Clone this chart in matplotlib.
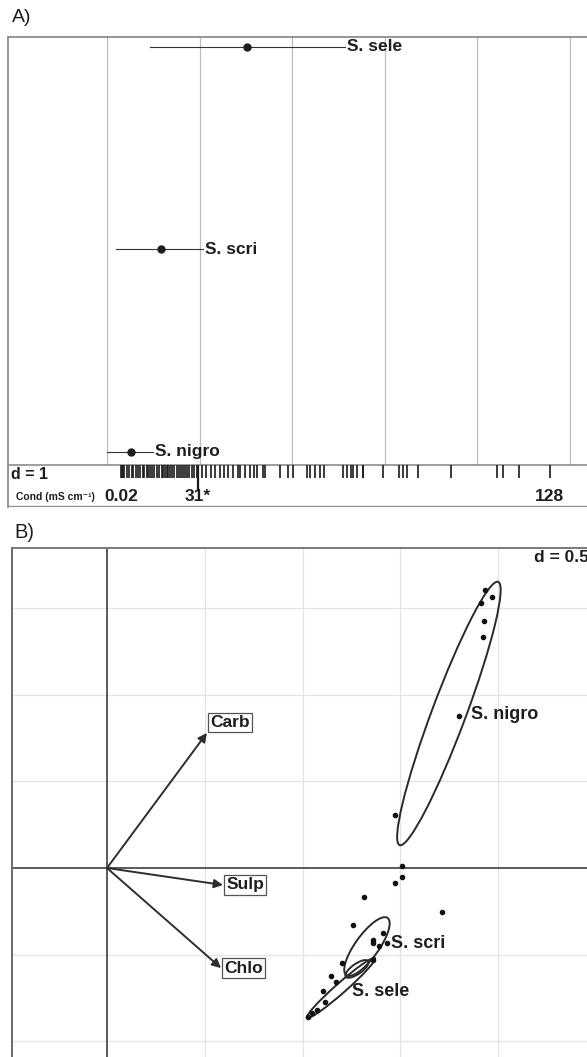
import numpy as np
import matplotlib.pyplot as plt
from matplotlib.patches import Ellipse

plt.rcParams['font.family'] = ['Liberation Sans', 'DejaVu Sans']

# Painel A - posicao das especies no gradiente de condutividade (unidades d)
especies = ['S. nigro', 'S. scri', 'S. sele']
media = [0.26, 0.58, 1.51]
inferior = [0.0, 0.10, 0.46]
superior = [0.50, 1.04, 2.57]

# valores de condutividade das amostras (escala padronizada)
rug = [0.15, 0.16, 0.17, 0.18, 0.22, 0.24, 0.27, 0.28, 0.31, 0.34, 0.36, 0.39,
       0.40, 0.43, 0.44, 0.46, 0.49, 0.51, 0.54, 0.56, 0.59, 0.61, 0.63, 0.65,
       0.66, 0.68, 0.70, 0.72, 0.76, 0.78, 0.80, 0.82, 0.84, 0.86, 0.89, 0.92,
       0.94, 0.97, 1.03, 1.07, 1.12, 1.17, 1.22, 1.26, 1.31, 1.36, 1.41,
       1.44, 1.49, 1.54, 1.59, 1.62, 1.69, 1.71, 1.87, 1.95, 2.01, 2.16, 2.19,
       2.25, 2.30, 2.34, 2.55, 2.59, 2.63, 2.66, 2.70, 2.76, 2.77, 2.98, 3.15,
       3.20, 3.24, 3.36, 3.71, 4.21, 4.28, 4.45, 4.78]
limiar = 0.98
cond_pos = [0.15, 0.98, 4.78]
cond_lab = ['0.02', '31*', '128']

# Painel B - amostras, variaveis e elipses das especies
amostra_x = [1.933, 1.968, 1.912, 1.927, 1.922, 1.800, 1.472,
             1.508, 1.508, 1.472, 1.314, 1.713, 1.258, 1.411, 1.360, 1.360,
             1.391, 1.431, 1.202, 1.360, 1.145, 1.171, 1.104, 1.115, 1.074,
             1.048, 1.028]
amostra_y = [1.603, 1.563, 1.528, 1.424, 1.332, 0.877, 0.306,
             0.012, -0.052, -0.087, -0.167, -0.254, -0.329, -0.375, -0.415, -0.433,
             -0.450, -0.433, -0.548, -0.531, -0.623, -0.657, -0.709, -0.773, -0.819,
             -0.836, -0.859]

variaveis = ['Carb', 'Sulp', 'Chlo']
var_x = [0.511, 0.593, 0.583]
var_y = [0.779, -0.098, -0.577]

ell_x = [1.748, 1.329, 1.196, 1.278]
ell_y = [0.891, -0.453, -0.692, -0.582]
ell_a = [0.800, 0.196, 0.245, 0.073]
ell_b = [0.088, 0.062, 0.028, 0.028]
ell_ang = [71.7, 58.1, 44.9, 39.4]

rot_b = ['S. nigro', 'S. scri', 'S. sele']
rot_x = [1.859, 1.452, 1.253]
rot_y = [0.887, -0.433, -0.715]

fig = plt.figure(figsize=(5.87, 10.57), dpi=100)
tinta = '#1e1e1e'

# ---------------- A ----------------
axA = fig.add_axes([0.01363, 0.52034, 0.9949, 0.44465])
axA.set_xlim(-1.069, 5.238)
axA.set_ylim(-0.2716, 2.049)
for s in ['right', 'bottom']:
    axA.spines[s].set_visible(False)
for s in ['left', 'top']:
    axA.spines[s].set_color('#8c8c8c')
    axA.spines[s].set_linewidth(1.3)
axA.axhline(-0.2716, color='#8c8c8c', lw=2.4)
axA.set_xticks([])
axA.set_yticks([])

axA.vlines(np.arange(0, 6), -0.0642, 2.049, color='#bdbdbd', lw=0.9)
axA.axhline(-0.0642, color='#8c8c8c', lw=1.2)

for i in range(len(especies)):
    axA.plot([inferior[i], superior[i]], [i, i], color='#333333', lw=0.8)
    axA.plot(media[i], i, 'o', color=tinta, ms=5)
    axA.text(superior[i] + 0.02, i, especies[i], ha='left', va='center',
             fontsize=12.5, fontweight='bold', color=tinta)

axA.vlines(rug, -0.128, -0.0642, color='#1a1a1a', lw=1.2)
axA.vlines(limiar, -0.188, -0.0642, color='#1a1a1a', lw=1.6)

axA.text(-1.04, -0.113, 'd = 1', ha='left', va='center', fontsize=11.5,
         fontweight='bold', color=tinta)
axA.text(-0.98, -0.222, 'Cond (mS cm\u207b\u00b9)', ha='left', va='center',
         fontsize=7.5, fontweight='bold', color=tinta)
for p, l in zip(cond_pos, cond_lab):
    axA.text(p, -0.222, l, ha='center', va='center', fontsize=12.5,
             fontweight='bold', color=tinta)

fig.text(12 / 587, 1 - 18 / 1057, 'A)', ha='left', va='center', fontsize=14,
         color=tinta)

# ---------------- B ----------------
axB = fig.add_axes([0.02044, -0.00473, 0.98807, 0.48628])
axB.set_xlim(-0.4857, 2.4796)
axB.set_ylim(-1.1188, 1.8454)
for s in ['right', 'bottom']:
    axB.spines[s].set_visible(False)
axB.spines['left'].set_color('#6a6a6a')
axB.spines['top'].set_color('#7a7a7a')
axB.spines['left'].set_linewidth(1.4)
axB.spines['top'].set_linewidth(1.4)
axB.set_xticks([])
axB.set_yticks([])

for gx in [0.5, 1.0, 1.5, 2.0]:
    axB.axvline(gx, color='#e6e2e2', lw=0.9, zorder=0)
for gy in [-1.0, -0.5, 0.5, 1.0, 1.5]:
    axB.axhline(gy, color='#e6e2e2', lw=0.9, zorder=0)
axB.axvline(0, color='#5a5a5a', lw=1.4, zorder=1)
axB.axhline(0, color='#5a5a5a', lw=1.4, zorder=1)

for i in range(len(variaveis)):
    axB.annotate('', xy=(var_x[i], var_y[i]), xytext=(0, 0),
                 arrowprops=dict(arrowstyle='-|>', color='#2e2e2e', lw=1.4,
                                 mutation_scale=13, shrinkA=0, shrinkB=0))
for i, nome in enumerate(variaveis):
    alinh = 'bottom' if var_y[i] > 0.3 else 'center'
    axB.annotate(nome, xy=(var_x[i], var_y[i]), xytext=(2.5, 2 if alinh == 'bottom' else 0),
                 textcoords='offset points', ha='left', va=alinh,
                 fontsize=12.5, fontweight='bold', color=tinta,
                 bbox=dict(boxstyle='square,pad=0.12', fc='white', ec='#555555', lw=0.9))

for i in range(len(ell_x)):
    axB.add_patch(Ellipse((ell_x[i], ell_y[i]), 2 * ell_a[i], 2 * ell_b[i],
                          angle=ell_ang[i], fill=False, ec='#2a2a2a', lw=1.4, zorder=3))

axB.plot(amostra_x, amostra_y, 'o', color='#111111', ms=3, zorder=4)

for t, x, y in zip(rot_b, rot_x, rot_y):
    axB.text(x, y, t, ha='left', va='center', fontsize=13, fontweight='bold',
             color=tinta, zorder=5)

axB.text(2.465, 1.79, 'd = 0.5', ha='right', va='center', fontsize=12.5,
         fontweight='bold', color=tinta)

fig.text(14 / 587, 1 - 533 / 1057, 'B)', ha='left', va='center', fontsize=14.5,
         color=tinta)

fig.savefig('out.png', dpi=100)
